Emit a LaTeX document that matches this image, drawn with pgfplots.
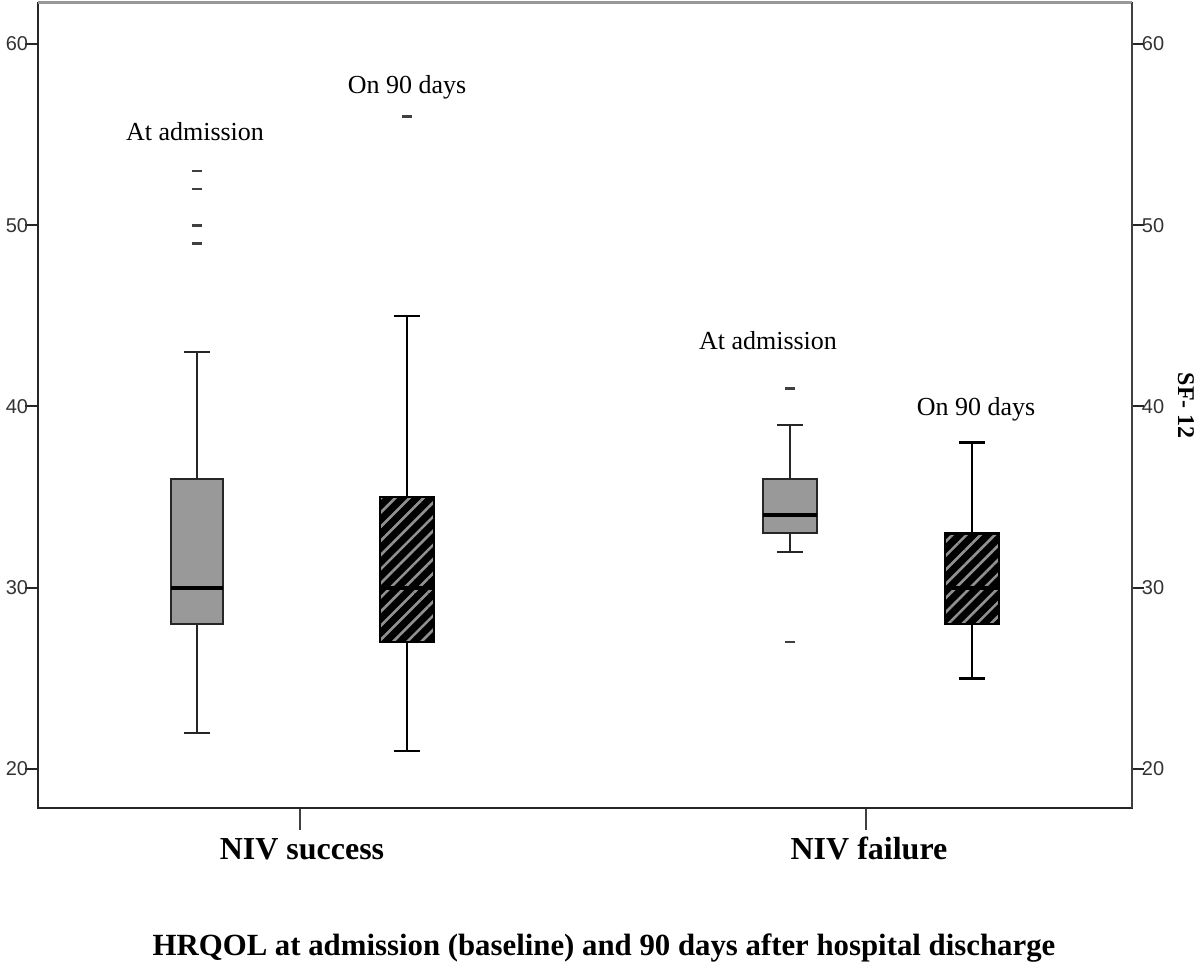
\documentclass[border=0pt]{standalone}
\usepackage{fontspec}
\setmainfont{Liberation Serif}
\newfontfamily\arialfont{Liberation Sans}
\usepackage{pgfplots}
\pgfplotsset{compat=1.18}
\usepgfplotslibrary{statistics}
\usetikzlibrary{patterns.meta}
\definecolor{boxgray}{RGB}{153,153,153}
\definecolor{stripegray}{RGB}{145,145,145}
\pgfplotsset{
  solidbox/.style={black, line width=1pt, boxplot/draw direction=y,
    boxplot/every box/.style={fill=boxgray, draw=black!85},
    boxplot/every whisker/.style={black!85},
    boxplot/every median/.style={line width=2pt, black}},
  hatchbox/.style={black, line width=1.3pt, boxplot/draw direction=y,
    boxplot/every box/.style={fill=black, draw=black,
      postaction={pattern={Lines[angle=45,distance=5pt,line width=1.3pt]}, pattern color=stripegray}},
    boxplot/every whisker/.style={black},
    boxplot/every median/.style={line width=2pt, black}},
}
\begin{document}
\begin{tikzpicture}
\begin{axis}[
  name=ax,
  scale only axis, width=547pt, height=402.5pt,
  xmin=38, xmax=1132, ymin=17.85, ymax=62.26,
  axis line style={black!85, line width=1pt},
  ytick={20,30,40,50,60}, ytick pos=left,
  xtick={300,866}, xticklabels={}, xtick pos=bottom,
  tick align=outside,
  xtick style={/pgfplots/major tick length=11pt, black!75, line width=0.8pt},
  ytick style={/pgfplots/major tick length=6.5pt, black!85, line width=1pt},
  /pgf/number format/assume math mode=true,
  yticklabel style={font=\arialfont\fontsize{10}{12}\selectfont, inner xsep=0.5pt, text=black!80},
  clip=false,
]
% NIV success, at admission
\addplot[solidbox, boxplot prepared={draw position=197, lower whisker=22, lower quartile=28, median=30, upper quartile=36, upper whisker=43, box extend=52, whisker extend=26}] coordinates {};
% NIV success, on 90 days
\addplot[hatchbox, boxplot prepared={draw position=407, lower whisker=21, lower quartile=27, median=30, upper quartile=35, upper whisker=45, box extend=54, whisker extend=26}] coordinates {};
% NIV failure, at admission
\addplot[solidbox, boxplot prepared={draw position=790, lower whisker=32, lower quartile=33, median=34, upper quartile=36, upper whisker=39, box extend=54, whisker extend=26}] coordinates {};
% NIV failure, on 90 days
\addplot[hatchbox, boxplot prepared={draw position=972, lower whisker=25, lower quartile=28, median=30, upper quartile=33, upper whisker=38, box extend=54, whisker extend=26}] coordinates {};
% outliers
\addplot[only marks, mark=-, mark size=2.6pt, mark options={line width=1.3pt, draw=black!75}] coordinates {
  (197,53) (197,52) (197,50) (197,49) (407,56) (790,41) (790,27)};
% top edge in gray
\draw[line width=1.5pt, black!40] (rel axis cs:0,1) -- (rel axis cs:1,1);
% labels
\node[anchor=base, font=\fontsize{13}{15}\selectfont] at (axis cs:195,54.70) {At admission};
\node[anchor=base, font=\fontsize{13}{15}\selectfont] at (axis cs:407,57.24) {On 90 days};
\node[anchor=base, font=\fontsize{13}{15}\selectfont] at (axis cs:768,43.17) {At admission};
\node[anchor=base, font=\fontsize{13}{15}\selectfont] at (axis cs:976,39.53) {On 90 days};
\node[anchor=base, font=\fontsize{16}{18}\selectfont\bfseries] at (axis cs:302,15.03) {NIV success};
\node[anchor=base, font=\fontsize{16}{18}\selectfont\bfseries] at (axis cs:869,15.03) {NIV failure};
\node[anchor=base, font=\fontsize{15.4}{18}\selectfont\bfseries] at (axis cs:604,9.74) {HRQOL at admission (baseline) and 90 days after hospital discharge};
\end{axis}
\begin{axis}[
  scale only axis, width=547pt, height=402.5pt,
  xmin=38, xmax=1132, ymin=17.85, ymax=62.26,
  axis x line=none, axis y line*=right,
  axis line style={black!75, line width=1.2pt},
  ytick={20,30,40,50,60},
  tick align=outside,
  ytick style={/pgfplots/major tick length=6pt, black!85, line width=1pt},
  /pgf/number format/assume math mode=true,
  yticklabel style={font=\arialfont\fontsize{10}{12}\selectfont, inner xsep=0.5pt, text=black!80},
  clip=false,
]
\node[rotate=-90, font=\fontsize{12}{14}\selectfont\bfseries] at (axis cs:1186,40.03) {SF- 12};
\end{axis}
\pgfresetboundingbox
\path[use as bounding box] ([xshift=-19pt,yshift=-78pt]ax.south west) rectangle ([xshift=34pt,yshift=1.5pt]ax.north east);
\end{tikzpicture}
\end{document}
